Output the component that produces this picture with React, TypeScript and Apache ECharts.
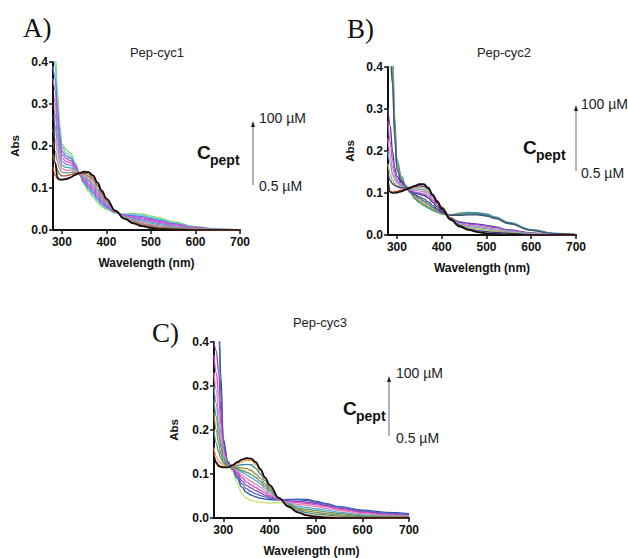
import React, { useEffect, useRef } from "react";
import * as echarts from "echarts";

// Wavelength grid (nm) shared by all spectra
const wavelengths = [280, 285, 290, 295, 300, 310, 320, 330, 340, 350, 360, 370, 380, 390, 400, 420, 440, 460, 480, 500, 520, 550, 600, 650, 700];
const xTicks = [300, 400, 500, 600, 700];
const yTicks = [0, 0.1, 0.2, 0.3, 0.4];

// Panel A: Pep-cyc1
const cyc1Colors = ["#7ed957", "#6ec6e8", "#4f7fe0", "#b455d6", "#e052c8", "#8a7ee8", "#46b0b0", "#ef7fa8", "#8c8c8c", "#8b5e34", "#d7301f", "#111111"];
const cyc1Spectra = [
  [0.45, 0.42, 0.33, 0.25, 0.205, 0.19, 0.182, 0.16, 0.13, 0.108, 0.092, 0.079, 0.066, 0.056, 0.049, 0.041, 0.038, 0.039, 0.038, 0.033, 0.028, 0.019, 0.008, 0.002, 0],
  [0.42, 0.391, 0.309, 0.237, 0.197, 0.183, 0.176, 0.157, 0.131, 0.111, 0.097, 0.084, 0.071, 0.06, 0.052, 0.041, 0.037, 0.037, 0.035, 0.03, 0.025, 0.017, 0.007, 0.002, 0],
  [0.39, 0.362, 0.288, 0.224, 0.188, 0.176, 0.171, 0.154, 0.131, 0.114, 0.101, 0.089, 0.075, 0.063, 0.054, 0.042, 0.036, 0.034, 0.032, 0.027, 0.023, 0.015, 0.006, 0.002, 0],
  [0.36, 0.333, 0.268, 0.211, 0.18, 0.17, 0.165, 0.152, 0.132, 0.117, 0.106, 0.094, 0.08, 0.067, 0.057, 0.042, 0.035, 0.032, 0.029, 0.025, 0.02, 0.014, 0.006, 0.001, 0],
  [0.33, 0.304, 0.247, 0.198, 0.171, 0.163, 0.16, 0.149, 0.132, 0.12, 0.11, 0.099, 0.084, 0.07, 0.059, 0.043, 0.034, 0.03, 0.026, 0.022, 0.018, 0.012, 0.005, 0.001, 0],
  [0.3, 0.275, 0.226, 0.185, 0.163, 0.156, 0.154, 0.146, 0.133, 0.123, 0.115, 0.104, 0.089, 0.074, 0.062, 0.043, 0.033, 0.028, 0.024, 0.019, 0.015, 0.01, 0.004, 0.001, 0],
  [0.27, 0.246, 0.205, 0.172, 0.154, 0.149, 0.148, 0.143, 0.134, 0.126, 0.119, 0.108, 0.094, 0.078, 0.064, 0.043, 0.031, 0.025, 0.021, 0.016, 0.012, 0.008, 0.003, 0.001, 0],
  [0.24, 0.217, 0.184, 0.159, 0.146, 0.142, 0.143, 0.14, 0.134, 0.129, 0.124, 0.113, 0.098, 0.081, 0.067, 0.044, 0.03, 0.023, 0.018, 0.013, 0.01, 0.006, 0.002, 0.001, 0],
  [0.21, 0.188, 0.163, 0.146, 0.137, 0.136, 0.137, 0.138, 0.135, 0.132, 0.128, 0.118, 0.103, 0.085, 0.069, 0.044, 0.029, 0.021, 0.015, 0.011, 0.007, 0.005, 0.002, 0, 0],
  [0.18, 0.159, 0.143, 0.133, 0.129, 0.129, 0.132, 0.135, 0.135, 0.135, 0.133, 0.123, 0.107, 0.088, 0.072, 0.045, 0.028, 0.018, 0.012, 0.008, 0.005, 0.003, 0.001, 0, 0],
  [0.15, 0.13, 0.122, 0.12, 0.12, 0.122, 0.126, 0.132, 0.136, 0.138, 0.137, 0.128, 0.112, 0.092, 0.074, 0.045, 0.027, 0.016, 0.009, 0.005, 0.002, 0.001, 0, 0, 0],
  [0.34, 0.16, 0.125, 0.12, 0.12, 0.121, 0.125, 0.131, 0.136, 0.139, 0.138, 0.13, 0.113, 0.093, 0.075, 0.046, 0.027, 0.016, 0.009, 0.005, 0.002, 0.001, 0, 0, 0],
];

// Panel B: Pep-cyc2
const cyc2Colors = ["#3a9a9a", "#5f9a4f", "#e39b3c", "#3c78c8", "#3d5a6a", "#5b2c8f", "#9a5fd6", "#e07fb5", "#5fa8e8", "#c8b040", "#2b3d8a", "#c0302a", "#111111"];
const cyc2Spectra = [
  [0.45, 0.45, 0.44, 0.28, 0.18, 0.14, 0.118, 0.1, 0.086, 0.077, 0.07, 0.064, 0.058, 0.054, 0.05, 0.048, 0.052, 0.054, 0.053, 0.05, 0.043, 0.03, 0.013, 0.004, 0.001],
  [0.45, 0.45, 0.42, 0.26, 0.17, 0.135, 0.115, 0.1, 0.088, 0.08, 0.073, 0.066, 0.06, 0.055, 0.051, 0.048, 0.05, 0.052, 0.051, 0.048, 0.041, 0.028, 0.012, 0.003, 0.001],
  [0.45, 0.44, 0.4, 0.25, 0.165, 0.133, 0.114, 0.101, 0.09, 0.083, 0.077, 0.07, 0.063, 0.057, 0.052, 0.047, 0.049, 0.05, 0.049, 0.046, 0.04, 0.027, 0.011, 0.003, 0.001],
  [0.45, 0.43, 0.38, 0.24, 0.16, 0.13, 0.113, 0.102, 0.093, 0.087, 0.081, 0.074, 0.066, 0.059, 0.053, 0.047, 0.048, 0.05, 0.05, 0.047, 0.041, 0.028, 0.012, 0.004, 0.001],
  [0.45, 0.42, 0.36, 0.23, 0.155, 0.128, 0.113, 0.104, 0.096, 0.091, 0.086, 0.079, 0.07, 0.062, 0.055, 0.047, 0.047, 0.048, 0.048, 0.045, 0.039, 0.027, 0.011, 0.003, 0.001],
  [0.3, 0.26, 0.2, 0.16, 0.14, 0.125, 0.113, 0.106, 0.1, 0.097, 0.094, 0.088, 0.078, 0.067, 0.056, 0.04, 0.031, 0.028, 0.026, 0.023, 0.019, 0.012, 0.005, 0.001, 0],
  [0.27, 0.22, 0.18, 0.15, 0.133, 0.12, 0.112, 0.106, 0.102, 0.1, 0.098, 0.093, 0.083, 0.071, 0.059, 0.04, 0.029, 0.026, 0.024, 0.021, 0.017, 0.011, 0.004, 0.001, 0],
  [0.23, 0.19, 0.16, 0.14, 0.128, 0.118, 0.112, 0.108, 0.106, 0.105, 0.103, 0.098, 0.088, 0.075, 0.062, 0.04, 0.027, 0.023, 0.021, 0.018, 0.015, 0.009, 0.004, 0.001, 0],
  [0.2, 0.17, 0.145, 0.132, 0.124, 0.116, 0.112, 0.11, 0.11, 0.109, 0.107, 0.102, 0.092, 0.079, 0.065, 0.041, 0.026, 0.02, 0.018, 0.015, 0.012, 0.008, 0.003, 0.001, 0],
  [0.17, 0.145, 0.13, 0.122, 0.118, 0.114, 0.112, 0.112, 0.113, 0.113, 0.111, 0.106, 0.095, 0.082, 0.067, 0.041, 0.024, 0.017, 0.014, 0.012, 0.009, 0.006, 0.002, 0.001, 0],
  [0.15, 0.13, 0.122, 0.118, 0.115, 0.112, 0.112, 0.114, 0.116, 0.117, 0.116, 0.11, 0.097, 0.082, 0.066, 0.04, 0.023, 0.014, 0.01, 0.008, 0.006, 0.004, 0.001, 0, 0],
  [0.11, 0.103, 0.102, 0.103, 0.104, 0.107, 0.11, 0.113, 0.117, 0.12, 0.12, 0.113, 0.096, 0.08, 0.064, 0.038, 0.021, 0.012, 0.007, 0.004, 0.002, 0.001, 0, 0, 0],
  [0.13, 0.102, 0.1, 0.1, 0.101, 0.104, 0.108, 0.112, 0.117, 0.121, 0.121, 0.112, 0.094, 0.078, 0.062, 0.036, 0.02, 0.012, 0.007, 0.004, 0.002, 0.001, 0, 0, 0],
];

// Panel C: Pep-cyc3
const cyc3Colors = ["#c5e36b", "#2f4f9f", "#4a63d6", "#8e44ad", "#d04fd0", "#ee82a8", "#5aa7e6", "#5d9b5d", "#9c8a3c", "#3a8f9a", "#f0a050", "#c0392b", "#111111"];
const cyc3Spectra = [
  [0.45, 0.45, 0.45, 0.3, 0.17, 0.125, 0.105, 0.08, 0.055, 0.045, 0.04, 0.037, 0.036, 0.035, 0.034, 0.035, 0.037, 0.038, 0.037, 0.034, 0.03, 0.024, 0.015, 0.009, 0.006],
  [0.45, 0.45, 0.45, 0.32, 0.18, 0.128, 0.11, 0.09, 0.07, 0.058, 0.052, 0.048, 0.045, 0.043, 0.042, 0.041, 0.042, 0.043, 0.042, 0.038, 0.033, 0.026, 0.018, 0.013, 0.01],
  [0.45, 0.45, 0.43, 0.28, 0.17, 0.126, 0.111, 0.095, 0.078, 0.066, 0.06, 0.055, 0.051, 0.048, 0.045, 0.041, 0.041, 0.041, 0.04, 0.036, 0.032, 0.025, 0.016, 0.011, 0.008],
  [0.4, 0.38, 0.33, 0.24, 0.16, 0.124, 0.112, 0.1, 0.085, 0.074, 0.068, 0.062, 0.057, 0.052, 0.048, 0.041, 0.039, 0.038, 0.036, 0.033, 0.029, 0.022, 0.014, 0.009, 0.006],
  [0.37, 0.33, 0.28, 0.21, 0.15, 0.122, 0.113, 0.104, 0.092, 0.082, 0.075, 0.069, 0.063, 0.057, 0.051, 0.041, 0.037, 0.035, 0.033, 0.03, 0.026, 0.02, 0.012, 0.007, 0.005],
  [0.33, 0.29, 0.24, 0.19, 0.145, 0.121, 0.114, 0.107, 0.098, 0.09, 0.083, 0.077, 0.07, 0.062, 0.055, 0.042, 0.035, 0.031, 0.029, 0.026, 0.022, 0.017, 0.01, 0.006, 0.004],
  [0.3, 0.26, 0.21, 0.17, 0.14, 0.12, 0.115, 0.11, 0.104, 0.098, 0.092, 0.085, 0.077, 0.068, 0.059, 0.043, 0.033, 0.027, 0.024, 0.021, 0.018, 0.013, 0.007, 0.004, 0.003],
  [0.27, 0.23, 0.19, 0.16, 0.135, 0.119, 0.115, 0.112, 0.108, 0.104, 0.099, 0.092, 0.083, 0.073, 0.063, 0.044, 0.031, 0.023, 0.02, 0.017, 0.014, 0.01, 0.005, 0.003, 0.002],
  [0.24, 0.2, 0.17, 0.145, 0.13, 0.118, 0.116, 0.115, 0.114, 0.112, 0.108, 0.1, 0.09, 0.078, 0.066, 0.045, 0.029, 0.02, 0.016, 0.013, 0.01, 0.007, 0.003, 0.002, 0.001],
  [0.2, 0.17, 0.15, 0.135, 0.125, 0.117, 0.117, 0.119, 0.121, 0.122, 0.121, 0.113, 0.1, 0.085, 0.07, 0.045, 0.027, 0.017, 0.012, 0.009, 0.007, 0.004, 0.002, 0.001, 0.001],
  [0.16, 0.14, 0.13, 0.124, 0.12, 0.116, 0.118, 0.123, 0.128, 0.131, 0.131, 0.122, 0.107, 0.09, 0.073, 0.045, 0.026, 0.014, 0.008, 0.005, 0.003, 0.002, 0.001, 0, 0],
  [0.145, 0.128, 0.12, 0.117, 0.116, 0.115, 0.119, 0.126, 0.132, 0.135, 0.135, 0.126, 0.11, 0.092, 0.074, 0.045, 0.026, 0.013, 0.006, 0.003, 0.001, 0, 0, 0, 0],
  [0.14, 0.125, 0.118, 0.116, 0.115, 0.115, 0.12, 0.127, 0.133, 0.136, 0.135, 0.127, 0.111, 0.092, 0.075, 0.045, 0.026, 0.013, 0.006, 0.003, 0.001, 0, 0, 0, 0],
];

const panelTitles = ["Pep-cyc1", "Pep-cyc2", "Pep-cyc3"];
const panelLetters = ["A)", "B)", "C)"];
const concHigh = "100 µM";
const concLow = "0.5 µM";

const SANS = "'Liberation Sans', Arial, Helvetica, sans-serif";
const SERIF = "'Liberation Serif', 'Times New Roman', serif";

// layout (pixels)
const grids = [
  { left: 53, top: 62, width: 187, height: 168 },
  { left: 388, top: 67, width: 188, height: 168 },
  { left: 214, top: 342, width: 195, height: 176 },
];
const letterPos = [
  [23, 28],
  [347, 29],
  [152, 333],
];
const titlePos = [
  [157, 52],
  [504, 52],
  [320, 322],
];
// [arrowX, arrowTop, arrowBottom, textX, highY, lowY, cX, cY]
const legendPos = [
  [253, 122, 185, 259, 118, 186, 197, 152],
  [576, 106, 171, 581, 104, 173, 523, 147],
  [389, 377, 436, 396, 373, 438, 343, 408],
];

function buildOption() {
  const spectraSets = [cyc1Spectra, cyc2Spectra, cyc3Spectra];
  const colorSets = [cyc1Colors, cyc2Colors, cyc3Colors];
  const xAxis: any[] = [];
  const yAxis: any[] = [];
  const series: any[] = [];
  const graphic: any[] = [];

  grids.forEach((g, i) => {
    xAxis.push({
      type: "value",
      gridIndex: i,
      min: 280,
      max: 700,
      splitLine: { show: false },
      axisLine: { show: true, onZero: false, lineStyle: { color: "#111", width: 2 } },
      axisTick: { show: true, length: 4, customValues: xTicks, lineStyle: { color: "#111", width: 1.5 } },
      axisLabel: { customValues: xTicks, margin: 6, color: "#111", fontSize: 12, fontWeight: "bold", fontFamily: SANS },
      name: "Wavelength (nm)",
      nameLocation: "middle",
      nameGap: 27,
      nameTextStyle: { color: "#111", fontSize: 12, fontWeight: "bold", fontFamily: SANS },
    });
    yAxis.push({
      type: "value",
      gridIndex: i,
      min: 0,
      max: 0.4,
      interval: 0.1,
      splitLine: { show: false },
      axisLine: { show: true, onZero: false, lineStyle: { color: "#111", width: 2 } },
      axisTick: { show: true, length: 4, lineStyle: { color: "#111", width: 1.5 } },
      axisLabel: { margin: 5, color: "#111", fontSize: 12, fontWeight: "bold", fontFamily: SANS, formatter: (v: number) => v.toFixed(1) },
      name: "Abs",
      nameLocation: "middle",
      nameGap: i === 2 ? 34 : 32,
      nameTextStyle: { color: "#111", fontSize: 11.5, fontWeight: "bold", fontFamily: SANS },
    });
    spectraSets[i].forEach((vals, k) => {
      const last = k === spectraSets[i].length - 1;
      series.push({
        type: "line",
        xAxisIndex: i,
        yAxisIndex: i,
        data: wavelengths.map((w, j) => [w, vals[j]]),
        showSymbol: false,
        smooth: 0.4,
        smoothMonotone: "x",
        clip: true,
        silent: true,
        lineStyle: { color: colorSets[i][k], width: last ? 1.7 : 1.3 },
        z: 2 + k,
      });
    });

    graphic.push({
      type: "text",
      x: letterPos[i][0],
      y: letterPos[i][1],
      style: { text: panelLetters[i], fill: "#111", fontSize: 27, fontFamily: SERIF, align: "left", verticalAlign: "middle" },
    });
    graphic.push({
      type: "text",
      x: titlePos[i][0],
      y: titlePos[i][1],
      style: { text: panelTitles[i], fill: "#222", fontSize: 13, fontFamily: SANS, align: "center", verticalAlign: "middle" },
    });
    const [ax, aTop, aBot, tx, hy, ly, cx, cy] = legendPos[i];
    graphic.push({
      type: "line",
      shape: { x1: ax, y1: aBot, x2: ax, y2: aTop + 3 },
      style: { stroke: "#666", lineWidth: 1 },
    });
    graphic.push({
      type: "polygon",
      shape: { points: [[ax, aTop - 1], [ax - 2, aTop + 5], [ax + 2, aTop + 5]] },
      style: { fill: "#222" },
    });
    graphic.push({
      type: "text",
      x: tx,
      y: hy,
      style: { text: concHigh, fill: "#222", fontSize: 14, fontFamily: SANS, align: "left", verticalAlign: "middle" },
    });
    graphic.push({
      type: "text",
      x: tx,
      y: ly,
      style: { text: concLow, fill: "#222", fontSize: 14, fontFamily: SANS, align: "left", verticalAlign: "middle" },
    });
    graphic.push({
      type: "text",
      x: cx,
      y: cy,
      style: { text: "C", fill: "#111", fontSize: 19, fontWeight: "bold", fontFamily: SANS, align: "left", verticalAlign: "middle" },
    });
    graphic.push({
      type: "text",
      x: cx + 13,
      y: cy + 8,
      style: { text: "pept", fill: "#111", fontSize: 14, fontWeight: "bold", fontFamily: SANS, align: "left", verticalAlign: "middle" },
    });
  });

  return {
    animation: false,
    backgroundColor: "#ffffff",
    grid: grids.map((g) => ({ ...g, containLabel: false })),
    xAxis,
    yAxis,
    series,
    graphic,
  };
}

export default function App() {
  const ref = useRef<HTMLDivElement>(null);
  useEffect(() => {
    if (!ref.current) return;
    const chart = echarts.init(ref.current, undefined, { renderer: "svg" });
    chart.setOption(buildOption() as any);
    return () => chart.dispose();
  }, []);
  return (
    <div
      ref={ref}
      style={{ position: "fixed", left: 0, top: 0, width: 628, height: 558, background: "#fff" }}
    />
  );
}
